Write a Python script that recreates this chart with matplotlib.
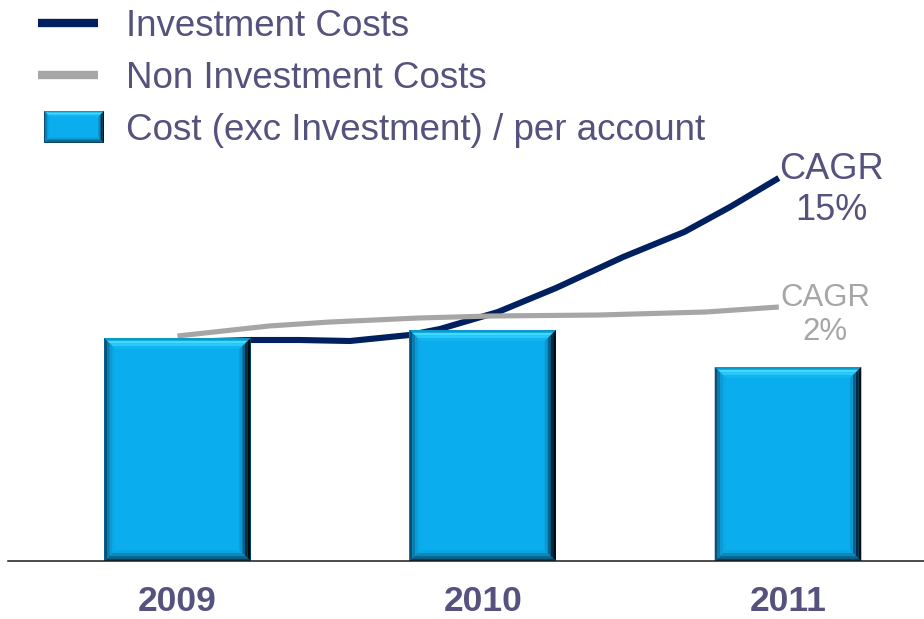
import matplotlib
matplotlib.use("Agg")
import matplotlib.pyplot as plt
from matplotlib.patches import Polygon, Rectangle
from matplotlib.lines import Line2D
from matplotlib.legend_handler import HandlerBase
from matplotlib.container import BarContainer

plt.rcParams['font.family'] = ['Liberation Sans', 'DejaVu Sans']

# data
years = ['2009', '2010', '2011']
cost_per_account = [223, 231, 194]

inv_x = [0.0, 0.24, 0.40, 0.565, 0.76, 0.86, 1.05, 1.24, 1.46, 1.66, 1.81, 1.97]
inv_y = [219, 221, 221, 220, 226, 232, 249, 273, 304, 329, 354, 383]
noninv_x = [0.0, 0.30, 0.50, 0.79, 1.03, 1.38, 1.73, 1.97]
noninv_y = [225, 235, 239, 243, 245, 246, 249, 254]

inv_label = 'Investment Costs'
noninv_label = 'Non Investment Costs'
bar_label = 'Cost (exc Investment) / per account'
inv_cagr = 'CAGR\n15%'
noninv_cagr = 'CAGR\n2%'

NAVY = '#002060'
GREY = '#a6a6a6'
TXT = '#55527e'
BAR = '#0aaeee'

# bevel colours, outer edge -> inner
SIDES = {
    'top':    ['#0c98cc', '#40daff', '#28c8fa', '#12b4f0'],
    'left':   ['#08507a', '#0b7cae', '#0c9bd4', '#0aaae8'],
    'right':  ['#000c14', '#022a40', '#08608a', '#0b98d0'],
    'bottom': ['#083f5c', '#0b6690', '#0c88bc', '#0aa6e4'],
}


def bevel_artists(x0, y0, w, h, bx, by, trans, z=3):
    arts = [Rectangle((x0, y0), w, h, facecolor=BAR, edgecolor='none',
                      transform=trans, zorder=z)]
    n = 4
    for i in range(n):
        ax0, ay0 = x0 + bx * i / n, y0 + by * i / n
        ax1, ay1 = x0 + w - bx * i / n, y0 + h - by * i / n
        bx0, by0 = x0 + bx * (i + 1) / n, y0 + by * (i + 1) / n
        bx1, by1 = x0 + w - bx * (i + 1) / n, y0 + h - by * (i + 1) / n
        quads = {
            'top': [(ax0, ay1), (ax1, ay1), (bx1, by1), (bx0, by1)],
            'bottom': [(ax0, ay0), (ax1, ay0), (bx1, by0), (bx0, by0)],
            'left': [(ax0, ay0), (ax0, ay1), (bx0, by1), (bx0, by0)],
            'right': [(ax1, ay0), (ax1, ay1), (bx1, by1), (bx1, by0)],
        }
        for side, pts in quads.items():
            arts.append(Polygon(pts, closed=True, facecolor=SIDES[side][i],
                                edgecolor='none', transform=trans, zorder=z + 0.1))
    return arts


class BevelHandler(HandlerBase):
    def create_artists(self, legend, orig_handle, xdescent, ydescent,
                       width, height, fontsize, trans):
        h = 23
        x0 = -xdescent + 4.3
        y0 = -ydescent + height / 2 - h / 2
        return bevel_artists(x0, y0, width, h, 4.3, 4.3, trans)


fig = plt.figure(figsize=(9.24, 6.19), dpi=100)
ax = fig.add_axes([8 / 924, 58 / 619, 916 / 924, 561 / 619])

x = range(len(years))
ax.plot(inv_x, inv_y, color=NAVY, lw=4.4, solid_capstyle='butt', zorder=2)
ax.plot(noninv_x, noninv_y, color=GREY, lw=3.7, solid_capstyle='butt', zorder=2)

bars = ax.bar(x, cost_per_account, width=0.48, color=BAR, zorder=3)
for b in bars:
    b.set_visible(False)
    for a in bevel_artists(b.get_x(), b.get_y(), b.get_width(), b.get_height(),
                           0.037, 11, ax.transData):
        ax.add_artist(a)

ax.annotate(inv_cagr, xy=(inv_x[-1], inv_y[-1]), xytext=(53, -12),
            textcoords='offset pixels', ha='center', va='center',
            fontsize=26, color=TXT, linespacing=1.2)
ax.annotate(noninv_cagr, xy=(noninv_x[-1], noninv_y[-1]), xytext=(46, -8),
            textcoords='offset pixels', ha='center', va='center',
            fontsize=22.4, color=GREY, linespacing=1.2)

ax.set_xlim(-0.555, 2.4455)
ax.set_ylim(0, 561)
ax.set_xticks(list(x), years, fontsize=25.5, fontweight='bold', color=TXT)
ax.tick_params(axis='x', length=0, pad=17)
ax.set_yticks([])
for s in ['top', 'left', 'right']:
    ax.spines[s].set_visible(False)
ax.spines['bottom'].set_color('#1a1a1a')
ax.spines['bottom'].set_linewidth(1.1)
ax.spines['bottom'].set_zorder(5)

handles = [Line2D([], [], color=NAVY, lw=6, solid_capstyle='butt'),
           Line2D([], [], color=GREY, lw=6, solid_capstyle='butt'),
           bars]
leg = ax.legend(handles, [inv_label, noninv_label, bar_label],
                loc='upper left', bbox_to_anchor=(38 / 924, 1 - 9 / 619),
                bbox_transform=fig.transFigure, frameon=False,
                borderpad=0, borderaxespad=0, handlelength=1.63,
                handletextpad=0.76, labelspacing=0.46,
                prop={'size': 26.5}, labelcolor=TXT,
                handler_map={BarContainer: BevelHandler()})

fig.savefig('out.png', dpi=100)
